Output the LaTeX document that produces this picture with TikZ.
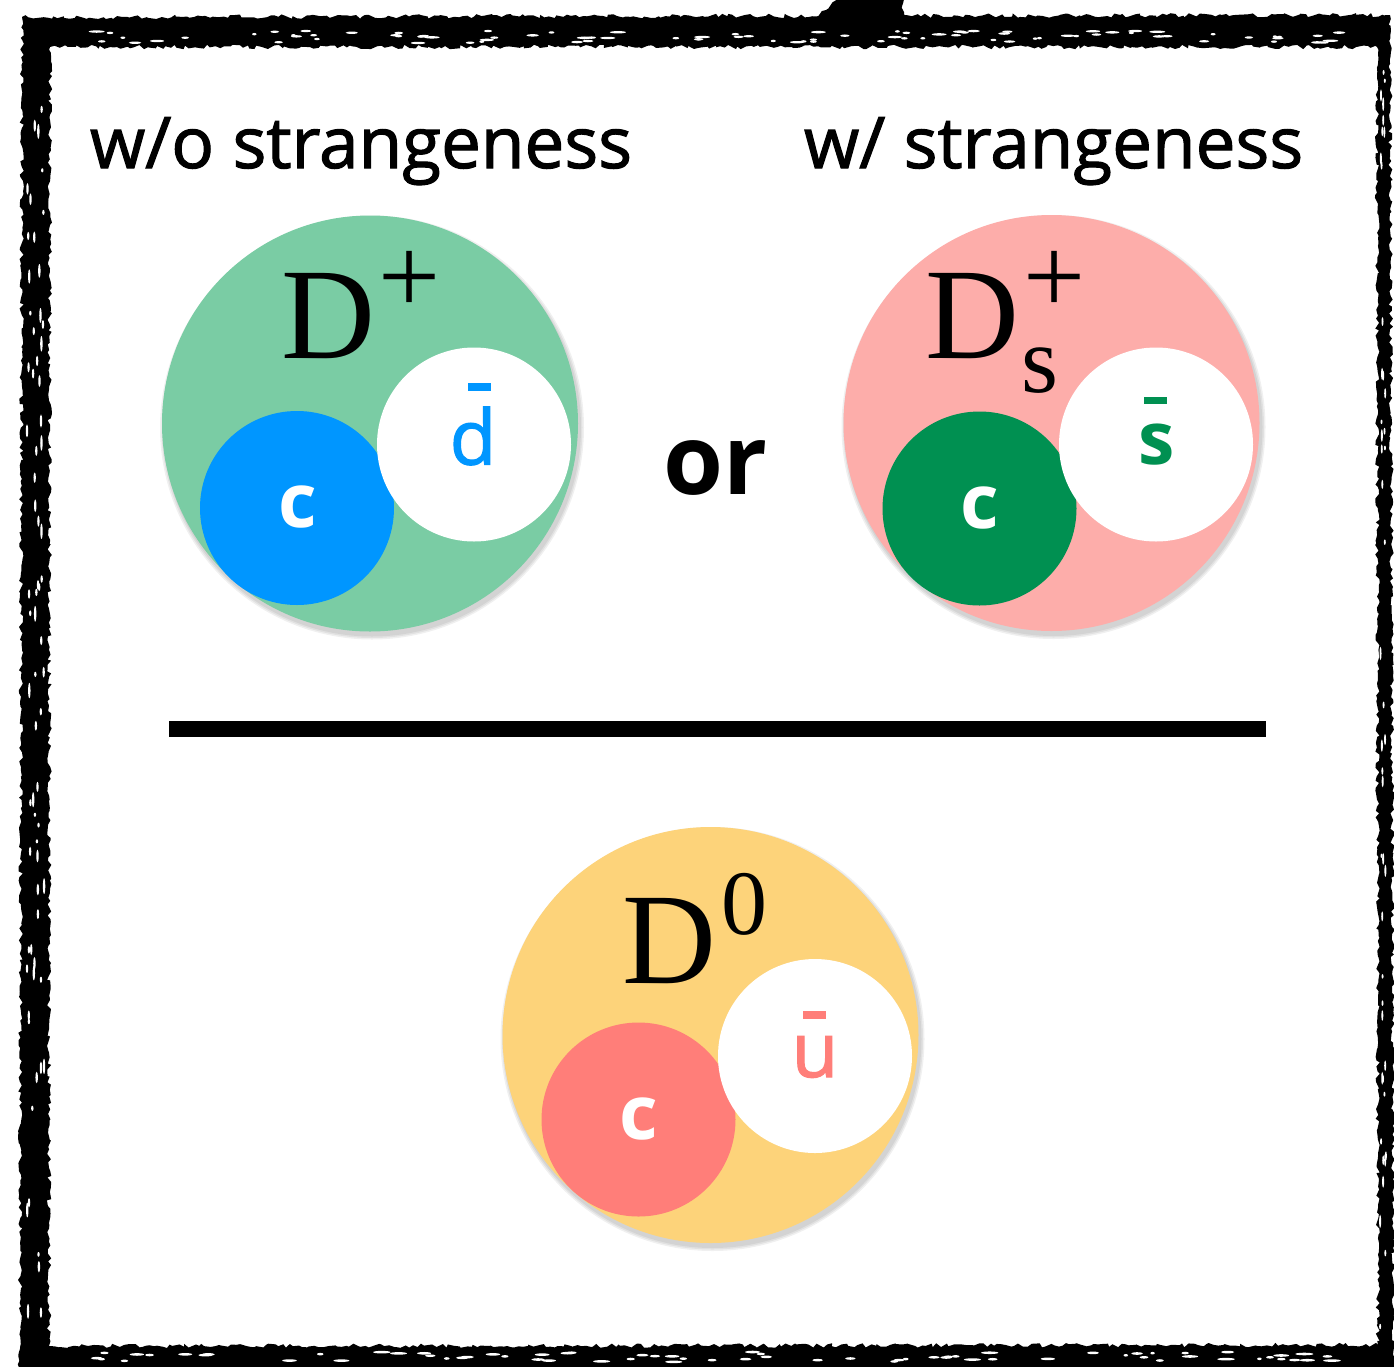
\documentclass[tikz,border=0pt]{standalone}
\usepackage{fontspec}
\setmainfont{Open Sans}
\newfontfamily\headfont[FakeBold=1.6]{Open Sans}
\newfontfamily\dfont{Liberation Serif}
\usetikzlibrary{decorations.pathmorphing}

\definecolor{mesonGreen}{HTML}{7ACCA4}
\definecolor{mesonPink}{HTML}{FDADAA}
\definecolor{mesonYellow}{HTML}{FDD37A}
\definecolor{aqua}{HTML}{0096FF}
\definecolor{moss}{HTML}{009051}
\definecolor{salmon}{HTML}{FF7E79}

% sizes of the meson symbol parts
\newcommand{\bigDsize}{\dfont\fontsize{130}{130}\selectfont}
\newcommand{\supDsize}{\dfont\fontsize{110}{110}\selectfont}
\newcommand{\subDsize}{\dfont\fontsize{95}{95}\selectfont}
\newcommand{\zeroDsize}{\dfont\fontsize{92}{92}\selectfont}

\tikzset{
  meson/.style={circle, minimum size=416pt, inner sep=0pt, outer sep=0pt},
  quark/.style={circle, minimum size=194pt, inner sep=0pt, outer sep=0pt},
  lbl/.style={inner sep=0pt, outer sep=0pt},
  heading/.style={lbl, anchor=base west, font=\headfont\fontsize{71}{71}\selectfont},
  symbol/.style={lbl, anchor=base west},
  cq/.style={lbl, anchor=base, text=white, font=\bfseries\fontsize{75}{75}\selectfont},
  aq/.style={lbl, anchor=base, font=\headfont\fontsize{76}{76}\selectfont},
  rough/.style={decorate, decoration={random steps, segment length=4pt, amplitude=2.2pt}},
}

\begin{document}
\begin{tikzpicture}[x=1pt, y=-1pt]
\useasboundingbox (0,0) rectangle (1394,1366);
\fill[white] (0,0) rectangle (1394,1366);

% brush-stroke frame
\pgfmathsetseed{4}
\fill[black, even odd rule, rough]
  (22,17) -- (1390,15) -- (1394,1370) -- (20,1370) -- cycle
  (50,47) -- (1377,47) -- (1378,1345) -- (49,1346) -- cycle;
% ink splash on the top edge
\fill[black, rough] (790,34) -- (810,22) -- (826,10) -- (838,-4) -- (902,-4)
  -- (904,12) -- (914,34) -- cycle;
% light streaks in the brush strokes
\foreach \k in {1,...,90}{
  \pgfmathsetmacro{\px}{70+rnd*1290}
  \pgfmathsetmacro{\py}{31+rnd*12}
  \pgfmathsetmacro{\rx}{2+rnd*6}
  \fill[white] (\px,\py) ellipse [x radius=\rx pt, y radius=1.2pt];
}
\foreach \k in {1,...,70}{
  \pgfmathsetmacro{\px}{80+rnd*1280}
  \pgfmathsetmacro{\py}{1352+rnd*10}
  \pgfmathsetmacro{\rx}{2+rnd*7}
  \fill[white] (\px,\py) ellipse [x radius=\rx pt, y radius=1.3pt];
}
\foreach \k in {1,...,70}{
  \pgfmathsetmacro{\px}{27+rnd*18}
  \pgfmathsetmacro{\py}{70+rnd*1260}
  \pgfmathsetmacro{\ry}{2+rnd*6}
  \fill[white] (\px,\py) ellipse [x radius=1.2pt, y radius=\ry pt];
}
\foreach \k in {1,...,45}{
  \pgfmathsetmacro{\px}{1380+rnd*6}
  \pgfmathsetmacro{\py}{70+rnd*1260}
  \pgfmathsetmacro{\ry}{2+rnd*5}
  \fill[white] (\px,\py) ellipse [x radius=1pt, y radius=\ry pt];
}

% headings
\node[heading] (hwo) at (90,168) {w/o strangeness};
\node[heading] (hw) at (804,168) {w/ strangeness};
\node[lbl, anchor=base west, font=\bfseries\fontsize{97}{97}\selectfont] (or) at (663,494) {or};

% soft shadows under the mesons
\foreach \cx/\cy in {370/423.5, 1051.5/423, 710.5/1035}{
  \foreach \s in {4,2.5,1}
    \fill[black, opacity=0.06] (\cx+2,\cy+4) circle[radius=208+\s];
}

% D+ meson
\node[meson, fill=mesonGreen] (dp) at (370,423.5) {};
\node[quark, fill=aqua] (dpc) at (297,508) {};
\node[quark, fill=white] (dpd) at (474,444.5) {};
\node[symbol] (dpD) at (281,358)
  {\bigDsize D\hspace{4pt}\raisebox{45pt}{\supDsize +}};
\node[cq] (dpcl) at (297.5,527.5) {c};
\node[aq, text=aqua] (dpdl) at (473,464.5) {d};
\fill[aqua] (468,383) rectangle (491,391);

% Ds+ meson
\node[meson, fill=mesonPink] (ds) at (1051.5,423) {};
\node[quark, fill=moss] (dsc) at (979.5,508.5) {};
\node[quark, fill=white] (dss) at (1156,444.5) {};
\node[symbol] (dsD) at (925,358)
  {\bigDsize D\hspace{5pt}\rlap{\raisebox{45pt}{\supDsize +}}\hspace{-2pt}\raisebox{-34pt}{\subDsize s}};
\node[cq] (dscl) at (979.5,528) {c};
\node[cq, text=moss, font=\bfseries\fontsize{73}{73}\selectfont] (dssl) at (1157,464.5) {s};
\fill[moss] (1144,397) rectangle (1167,404);

% separator
\coordinate (sepL) at (169,729);
\coordinate (sepR) at (1266,729);
\draw[line width=16pt] (sepL) -- (sepR);

% D0 meson
\node[meson, fill=mesonYellow] (dz) at (710.5,1035) {};
\node[quark, fill=salmon] (dzc) at (638.5,1119.5) {};
\node[quark, fill=white] (dzu) at (815,1056) {};
\node[symbol] (dzD) at (622,983)
  {\bigDsize D\hspace{6pt}\raisebox{49pt}{\zeroDsize 0}};
\node[cq] (dzcl) at (638.5,1139.5) {c};
\node[aq, text=salmon] (dzul) at (815,1077) {u};
\fill[salmon] (803,1011) rectangle (826,1019);
\end{tikzpicture}
\end{document}
